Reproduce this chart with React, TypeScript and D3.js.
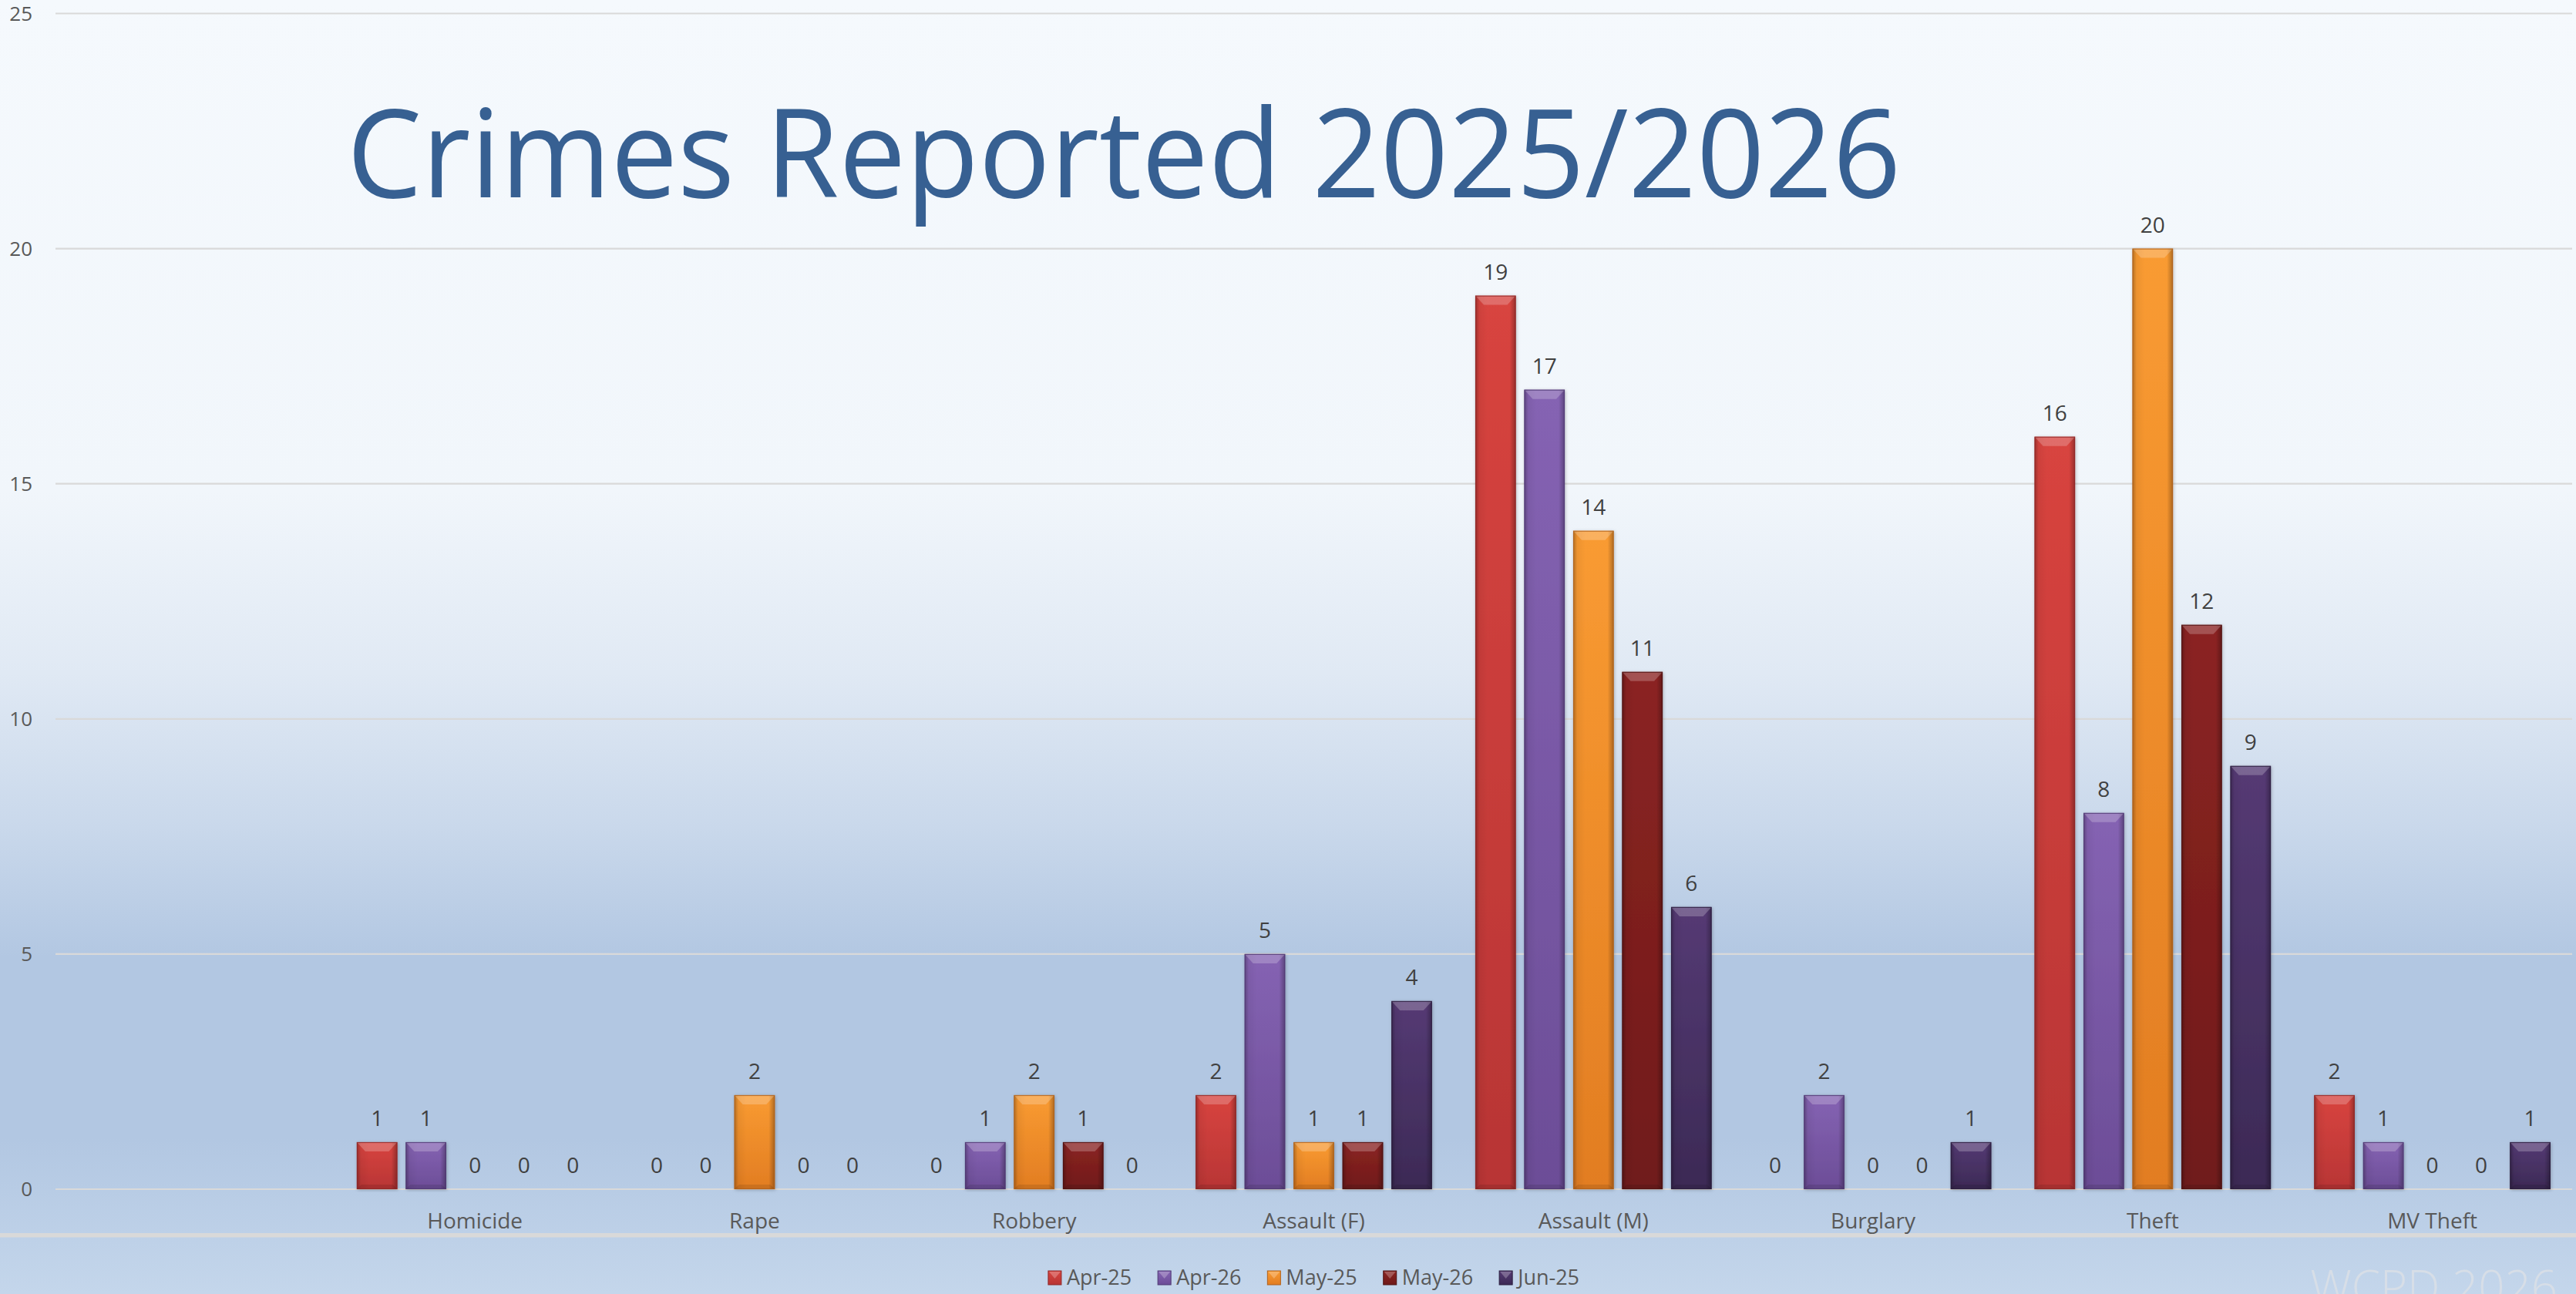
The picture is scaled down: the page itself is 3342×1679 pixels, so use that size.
import React, { useEffect, useRef } from 'react';
import * as d3 from 'd3';

const W = 3342;
const H = 1679;

const categories = ["", "Homicide", "Rape", "Robbery", "Assault (F)", "Assault (M)", "Burglary", "Theft", "MV Theft"];
const seriesNames = ["Apr-25", "Apr-26", "May-25", "May-26", "Jun-25"];
const apr25 = [null, 1, 0, 0, 2, 19, 0, 16, 2];
const apr26 = [null, 1, 0, 1, 5, 17, 2, 8, 1];
const may25 = [null, 0, 2, 2, 1, 14, 0, 20, 0];
const may26 = [null, 0, 0, 1, 1, 11, 0, 12, 0];
const jun25 = [null, 0, 0, 0, 4, 6, 1, 9, 1];
const yTicks = [0, 5, 10, 15, 20, 25];

const seriesValues = [apr25, apr26, may25, may26, jun25];
// top colour, bottom colour, edge
const palette = [
  ["#d8443f", "#b83535", "#8f2626"],
  ["#8563b3", "#6c4d97", "#4f3873"],
  ["#f99b32", "#e27d22", "#b0601a"],
  ["#8b2422", "#701a1a", "#4e1212"],
  ["#553a74", "#3c2a55", "#2a1d3d"],
];

const FONT = "'Open Sans', 'Noto Sans', sans-serif";

export default function App() {
  const ref = useRef<SVGSVGElement>(null);

  useEffect(() => {
    document.body.style.margin = "0";
    document.body.style.overflow = "hidden";
    if (!ref.current) return;
    const svg = d3.select(ref.current);
    svg.selectAll("*").remove();

    const defs = svg.append("defs");

    // background gradient
    const bg = defs.append("linearGradient")
      .attr("id", "bg").attr("x1", 0).attr("y1", 0).attr("x2", 0).attr("y2", 1);
    [["0%", "#f5f9fd"], ["38%", "#f1f6fb"], ["52%", "#e0e9f4"], ["64%", "#c9d8eb"],
     ["74%", "#b2c7e2"], ["88%", "#b2c7e2"], ["100%", "#c4d6eb"]]
      .forEach(([o, c]) => bg.append("stop").attr("offset", o).attr("stop-color", c));

    seriesNames.forEach((_, i) => {
      const g = defs.append("linearGradient")
        .attr("id", `bar${i}`).attr("x1", 0).attr("y1", 0).attr("x2", 0).attr("y2", 1);
      g.append("stop").attr("offset", "0%").attr("stop-color", palette[i][0]);
      g.append("stop").attr("offset", "100%").attr("stop-color", palette[i][1]);
    });

    const edge = defs.append("linearGradient")
      .attr("id", "edge").attr("x1", 0).attr("y1", 0).attr("x2", 1).attr("y2", 0);
    [["0%", 0.28], ["10%", 0.05], ["30%", 0], ["85%", 0], ["100%", 0.3]]
      .forEach(([o, a]) => edge.append("stop").attr("offset", o as string)
        .attr("stop-color", "#000").attr("stop-opacity", a as number));

    const shadow = defs.append("filter").attr("id", "shadow")
      .attr("x", "-20%").attr("y", "-5%").attr("width", "140%").attr("height", "110%");
    shadow.append("feDropShadow").attr("dx", 1).attr("dy", 1).attr("stdDeviation", 2)
      .attr("flood-color", "#000").attr("flood-opacity", 0.25);

    svg.append("rect").attr("width", W).attr("height", H).attr("fill", "url(#bg)");

    const left = 72, right = 3337;
    const x0 = d3.scaleBand().domain(categories).range([left, right]).paddingInner(0).paddingOuter(0);
    const x1 = d3.scaleBand().domain(seriesNames).range([0, x0.bandwidth()])
      .paddingInner(0.173).paddingOuter(0.443);
    const y = d3.scaleLinear().domain([0, 25]).range([1543, 17.5]);

    // grid
    svg.append("g").selectAll("line").data(yTicks).join("line")
      .attr("x1", left).attr("x2", right)
      .attr("y1", d => y(d)).attr("y2", d => y(d))
      .attr("stroke", "#d9d9d9").attr("stroke-width", 2.2);

    svg.append("g").selectAll("text").data(yTicks).join("text")
      .attr("x", 42).attr("y", d => y(d)).attr("dy", "0.35em")
      .attr("text-anchor", "end")
      .style("font-family", FONT).style("font-size", "26px").attr("fill", "#595959")
      .text(d => d);

    // bottom band line
    svg.append("rect").attr("x", 0).attr("y", 1600).attr("width", W).attr("height", 5.5)
      .attr("fill", "#d9d9d9");

    // title
    svg.append("text").attr("x", 450).attr("y", 256)
      .attr("textLength", 2016).attr("lengthAdjust", "spacingAndGlyphs")
      .style("font-family", FONT).style("font-size", "160px").attr("fill", "#376092")
      .text("Crimes Reported 2025/2026");

    // bars
    const bars = svg.append("g");
    seriesNames.forEach((name, si) => {
      const vals = seriesValues[si];
      categories.forEach((cat, ci) => {
        const v = vals[ci];
        if (v === null) return;
        const bx = (x0(cat) as number) + (x1(name) as number);
        const bw = x1.bandwidth();
        const top = y(v);
        const h = y(0) - top;
        if (h > 0) {
          const g = bars.append("g");
          g.append("rect").attr("x", bx).attr("y", top).attr("width", bw).attr("height", h)
            .attr("fill", `url(#bar${si})`).attr("filter", "url(#shadow)");
          g.append("rect").attr("x", bx).attr("y", top).attr("width", bw).attr("height", h)
            .attr("fill", "url(#edge)");
          const bev = Math.min(12, h / 2);
          g.append("polygon")
            .attr("points", `${bx},${top} ${bx + bw},${top} ${bx + bw - 11},${top + bev} ${bx + 11},${top + bev}`)
            .attr("fill", "#fff").attr("fill-opacity", 0.22);
          g.append("polygon")
            .attr("points", `${bx},${top + h} ${bx + bw},${top + h} ${bx + bw - 6},${top + h - Math.min(6, h / 2)} ${bx + 6},${top + h - Math.min(6, h / 2)}`)
            .attr("fill", "#000").attr("fill-opacity", 0.1);
          g.append("rect").attr("x", bx + 0.5).attr("y", top + 0.5).attr("width", bw - 1).attr("height", h - 1)
            .attr("fill", "none").attr("stroke", palette[si][2]).attr("stroke-width", 1.2)
            .attr("stroke-opacity", 0.8);
        }
        bars.append("text").attr("x", bx + bw / 2).attr("y", top - 21)
          .attr("text-anchor", "middle")
          .style("font-family", FONT).style("font-size", "28px").attr("fill", "#404040")
          .text(v);
      });
    });

    // category labels
    svg.append("g").selectAll("text").data(categories).join("text")
      .attr("x", d => (x0(d) as number) + x0.bandwidth() / 2).attr("y", 1594)
      .attr("text-anchor", "middle")
      .style("font-family", FONT).style("font-size", "28px").attr("fill", "#595959")
      .text(d => d);

    // legend
    const legend = svg.append("g");
    const items = seriesNames.map((name, i) => {
      const g = legend.append("g");
      g.append("rect").attr("x", 0).attr("y", -9).attr("width", 17).attr("height", 18)
        .attr("fill", `url(#bar${i})`).attr("stroke", palette[i][2]).attr("stroke-width", 1);
      g.append("polygon").attr("points", "1,-8 16,-8 8.5,1").attr("fill", "#fff").attr("fill-opacity", 0.25);
      const t = g.append("text").attr("x", 24).attr("y", 0).attr("dy", "0.35em")
        .style("font-family", FONT).style("font-size", "27px").attr("fill", "#595959")
        .text(name);
      const tw = (t.node() as SVGTextElement).getComputedTextLength();
      return { g, w: 24 + tw };
    });
    const gap = 34;
    const total = d3.sum(items, d => d.w) + gap * (items.length - 1);
    let cx = (left + right) / 2 - total / 2;
    items.forEach(it => {
      it.g.attr("transform", `translate(${cx},1658)`);
      cx += it.w + gap;
    });

    // watermark
    svg.append("text").attr("x", 3318).attr("y", 1692).attr("text-anchor", "end")
      .style("font-family", FONT).style("font-size", "60px").style("font-weight", 300)
      .attr("fill", "#d7dee7").text("WCPD 2026");
  }, []);

  return <svg ref={ref} width={W} height={H} style={{ display: "block" }} />;
}
